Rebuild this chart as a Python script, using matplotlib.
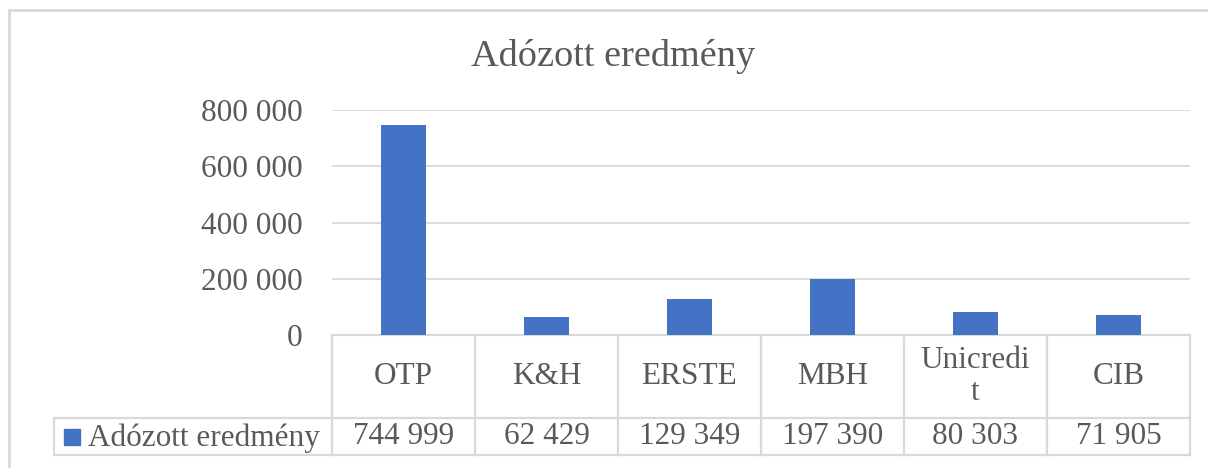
import matplotlib
matplotlib.use("Agg")
import matplotlib.pyplot as plt
from matplotlib.patches import Rectangle
from matplotlib.transforms import blended_transform_factory

# data
banks = ["OTP", "K&H", "ERSTE", "MBH", "Unicredi\nt", "CIB"]
values = [744999, 62429, 129349, 197390, 80303, 71905]
value_labels = ["744 999", "62 429", "129 349", "197 390", "80 303", "71 905"]
series_name = "Adózott eredmény"
yticks = [0, 200000, 400000, 600000, 800000]
ytick_labels = ["0", "200 000", "400 000", "600 000", "800 000"]

W, H = 1208, 468
bar_color = "#4472C4"
text_color = "#595959"
line_color = "#D9D9D9"
font = "Liberation Serif"
fs = 22.5

fig = plt.figure(figsize=(W / 100, H / 100), dpi=100)
plt.rcParams["font.family"] = font

# plot area in pixels
left, right, top, bottom = 332, 1190, 110, 335
ax = fig.add_axes([left / W, 1 - bottom / H, (right - left) / W, (bottom - top) / H])

x = list(range(len(banks)))
ax.bar(x, values, width=0.32, color=bar_color, zorder=3)
ax.set_xlim(-0.5, len(banks) - 0.5)
ax.set_ylim(0, 800000)
ax.set_yticks(yticks)
ax.set_yticklabels(ytick_labels, fontsize=fs, color=text_color)
ax.tick_params(axis="y", length=0, pad=21)
ax.set_xticks([])
ax.grid(axis="y", color=line_color, lw=1.3, zorder=0)
for s in ax.spines.values():
    s.set_visible(False)

# data table below the axis
tr = blended_transform_factory(ax.transData, ax.transAxes)
ph = bottom - top
y_cat = -(418 - bottom) / ph
y_end = -(455 - bottom) / ph
x_leg = -0.5 - (left - 54) / ((right - left) / len(banks))

lk = dict(color=line_color, lw=1.6, transform=tr, clip_on=False, zorder=1)
ax.plot([-0.5, len(banks) - 0.5], [0, 0], **lk)
ax.plot([x_leg, len(banks) - 0.5], [y_cat, y_cat], **lk)
ax.plot([x_leg, len(banks) - 0.5], [y_end, y_end], **lk)
ax.plot([x_leg, x_leg], [y_cat, y_end], **lk)
for i in range(len(banks) + 1):
    ax.plot([i - 0.5, i - 0.5], [0, y_end], **lk)

for i, (b, v) in enumerate(zip(banks, value_labels)):
    ax.text(i, y_cat / 2, b, transform=tr, ha="center", va="center",
            fontsize=fs, color=text_color, linespacing=1.15)
    ax.text(i, (y_cat + y_end) / 2, v, transform=tr, ha="center", va="center",
            fontsize=fs, color=text_color)

# legend key in the table
fig.add_artist(Rectangle((64 / W, 1 - 445 / H), 16 / W, 16 / H,
                         transform=fig.transFigure, color=bar_color))
fig.text(88 / W, 1 - 438 / H, series_name, ha="left", va="center",
         fontsize=fs, color=text_color)

# title
fig.text(613 / W, 1 - 57 / H, "Adózott eredmény", ha="center", va="center",
         fontsize=27.5, color=text_color)

# chart border
fig.add_artist(Rectangle((9 / W, -0.05), 1.1, 1 - 10 / H + 0.05,
                         transform=fig.transFigure, fill=False,
                         edgecolor=line_color, lw=2))

fig.savefig("out.png", dpi=100)
